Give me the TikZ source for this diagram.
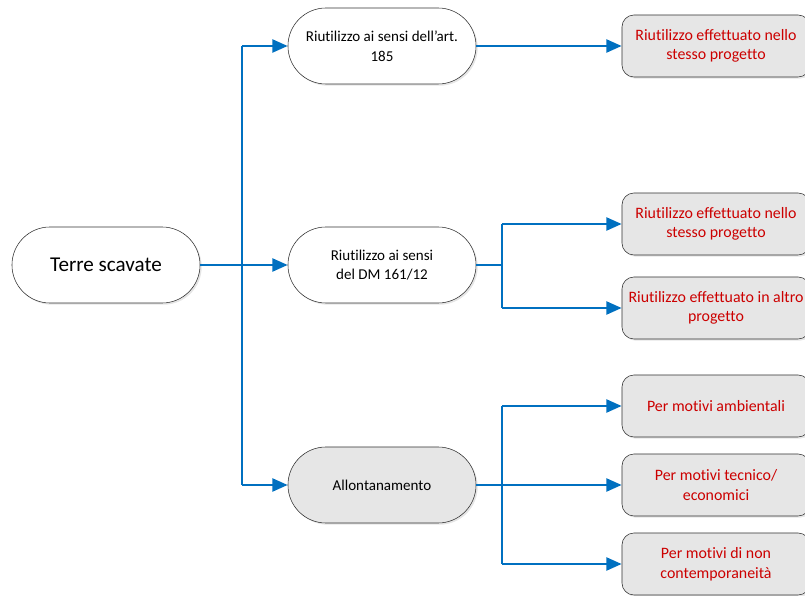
\documentclass[tikz,border=0pt]{standalone}
\usepackage{fontspec}
\setmainfont[Ligatures={NoCommon}]{Carlito}
\usetikzlibrary{arrows.meta,shadows}
\definecolor{linkblue}{RGB}{0,112,192}
\definecolor{leafred}{RGB}{204,0,0}
\definecolor{leafgray}{RGB}{230,230,230}

\begin{document}
\begin{tikzpicture}[x=0.025cm,y=-0.025cm,
    pill/.style={draw=black!80,thin,fill=white,rounded corners=0.95cm,
        minimum width=4.7cm,minimum height=1.9cm,align=center,
        font=\fontsize{10.7}{14}\selectfont,
        drop shadow={shadow xshift=1.2pt,shadow yshift=-1.2pt,fill=black!20}},
    leaf/.style={draw=black!80,thin,fill=leafgray,rounded corners=0.3cm,
        minimum width=4.7cm,minimum height=1.55cm,align=center,text=leafred,
        font=\fontsize{11.3}{14}\selectfont,
        drop shadow={shadow xshift=1.2pt,shadow yshift=-1.2pt,fill=black!20}},
    trunk/.style={draw=linkblue,line width=1.8pt},
    link/.style={trunk,-{Triangle[length=0.38cm,width=0.32cm]}}]
    \useasboundingbox (0,0) rectangle (805,596);
    \clip (0,0) rectangle (805,596);

    % nodes
    \node[pill,font=\fontsize{15}{18}\selectfont] (terre) at (106,265) {Terre scavate};
    \node[pill] (art) at (382,46) {Riutilizzo ai sensi dell’art.\\185};
    \node[pill] (dm) at (382,265) {Riutilizzo ai sensi\\del DM 161/12};
    \node[pill,fill=leafgray] (allont) at (382,485) {Allontanamento};

    \node[leaf] (stessoA) at (716,46) {Riutilizzo effettuato nello\\stesso progetto};
    \node[leaf] (stessoB) at (716,224) {Riutilizzo effettuato nello\\stesso progetto};
    \node[leaf] (altro) at (716,308) {Riutilizzo effettuato in altro\\progetto};
    \node[leaf] (ambient) at (716,406) {Per motivi ambientali};
    \node[leaf] (tecnico) at (716,485) {Per motivi tecnico/\\economici};
    \node[leaf] (contemp) at (716,564) {Per motivi di non\\contemporaneità};

    % connectors
    \coordinate (tTop) at (242,46);
    \coordinate (tMid) at (242,265);
    \coordinate (tBot) at (242,485);
    \coordinate (dmA) at (502,224);
    \coordinate (dmB) at (502,308);
    \coordinate (dmM) at (502,265);
    \coordinate (alA) at (502,406);
    \coordinate (alM) at (502,485);
    \coordinate (alB) at (502,564);

    \draw[trunk] (terre.east) -- (tMid);
    \draw[trunk] (tTop) -- (tBot);
    \draw[link] (tTop) -- (art.west);
    \draw[link] (tMid) -- (dm.west);
    \draw[link] (tBot) -- (allont.west);

    \draw[link] (art.east) -- (stessoA.west);

    \draw[trunk] (dm.east) -- (dmM);
    \draw[trunk] (dmA) -- (dmB);
    \draw[link] (dmA) -- (stessoB.west);
    \draw[link] (dmB) -- (altro.west);

    \draw[trunk] (allont.east) -- (alM);
    \draw[trunk] (alA) -- (alB);
    \draw[link] (alA) -- (ambient.west);
    \draw[link] (alM) -- (tecnico.west);
    \draw[link] (alB) -- (contemp.west);
\end{tikzpicture}
\end{document}
